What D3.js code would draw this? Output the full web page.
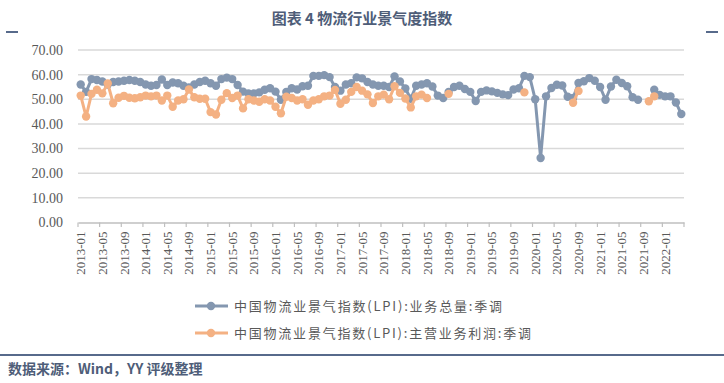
<!DOCTYPE html>
<html><head><meta charset="utf-8">
<script src="https://cdn.jsdelivr.net/npm/d3@7"></script>
<style>body{margin:0;background:#fff}svg{display:block}</style>
</head><body><svg id="c" width="724" height="383"></svg>
<script>
// ---- data ----
const startMonth = "2013-01", endMonth = "2022-04";
const tickLabels = ["2013-01","2013-05","2013-09","2014-01","2014-05","2014-09","2015-01","2015-05","2015-09",
  "2016-01","2016-05","2016-09","2017-01","2017-05","2017-09","2018-01","2018-05","2018-09","2019-01","2019-05",
  "2019-09","2020-01","2020-05","2020-09","2021-01","2021-05","2021-09","2022-01"];
const yTicks = [0,10,20,30,40,50,60,70];
const seriesNames = ["中国物流业景气指数(LPI):业务总量:季调","中国物流业景气指数(LPI):主营业务利润:季调"];
const lpiTotal = [
 56.0,53.0,58.2,57.8,57.2,56.0,57.0,57.2,57.5,57.8,57.5,57.0,
 56.0,55.5,55.8,58.0,55.8,56.8,56.5,55.5,54.8,56.0,57.0,57.5,
 56.5,55.5,58.2,58.8,58.2,55.8,53.1,52.4,52.4,52.8,53.9,54.5,
 53.1,49.8,53.0,54.5,54.0,55.3,55.5,59.5,59.5,59.8,59.0,55.0,
 53.5,56.0,56.5,58.9,58.5,57.0,56.0,55.5,55.5,55.0,59.3,57.2,
 54.4,50.2,55.5,56.0,56.5,55.2,51.5,50.5,53.0,55.0,55.5,54.2,
 53.0,49.3,53.0,53.6,53.2,52.6,52.0,51.7,54.0,54.5,59.5,59.0,
 50.0,26.2,51.2,54.6,55.9,55.6,51.0,50.5,56.6,57.3,58.6,57.5,
 55.0,49.8,55.2,57.9,56.6,55.3,50.8,49.8,null,null,53.9,51.8,
 51.2,51.2,48.7,44.0];
const lpiProfit = [
 51.5,43.0,52.2,53.9,52.4,56.4,48.4,50.6,51.4,50.6,50.4,50.8,
 51.5,51.2,51.5,49.5,51.5,47.0,49.5,50.0,54.0,50.8,50.2,50.2,
 44.8,43.8,49.8,52.5,50.5,51.5,46.3,50.0,49.5,49.0,50.0,49.5,
 47.0,44.3,51.0,50.5,49.5,50.0,47.8,49.5,50.0,51.2,51.5,53.8,
 48.2,49.8,53.0,55.0,53.5,52.0,48.5,51.2,51.9,50.0,55.3,52.6,
 50.3,46.7,51.2,51.9,50.5,null,null,null,52.2,null,null,null,
 null,null,null,null,null,null,null,null,null,null,52.8,null,
 null,null,null,null,null,null,null,48.6,53.4,null,null,null,
 null,null,null,null,null,null,null,null,null,49.2,51.2,null,
 null,null,null,null];

// ---- chart ----
const fmt = d3.timeFormat("%Y-%m"), parse = d3.timeParse("%Y-%m");
const months = d3.timeMonth.range(parse(startMonth), d3.timeMonth.offset(parse(endMonth),1)).map(fmt);
const svg = d3.select("#c");
const x = d3.scaleBand().domain(months).range([78, 684]);
const y = d3.scaleLinear().domain([0, 70]).range([222.5, 50]);
const blue = "#8497B0", orange = "#F4B183";
const navy = "#1F3864", titleCol = "#4E5D78";

// title and decorations
svg.append("text").attr("x", 362).attr("y", 24).attr("text-anchor","middle")
  .attr("font-family","'Noto Sans CJK SC'").attr("font-weight","bold").attr("font-size",15)
  .attr("fill", titleCol).text("图表 4 物流行业景气度指数");
svg.append("line").attr("x1",6).attr("x2",18).attr("y1",32).attr("y2",32).attr("stroke",navy).attr("stroke-width",1.5);
svg.append("line").attr("x1",706).attr("x2",718).attr("y1",32).attr("y2",32).attr("stroke",navy).attr("stroke-width",1.5);

// grid
svg.append("g").selectAll("line").data(yTicks.filter(d=>d>0)).join("line")
  .attr("x1",78).attr("x2",684).attr("y1",d=>y(d)).attr("y2",d=>y(d))
  .attr("stroke","#D9D9D9").attr("stroke-width",1.5);

// y labels
svg.append("g").selectAll("text").data(yTicks).join("text")
  .attr("x",63).attr("y",d=>y(d)).attr("dy","0.35em").attr("text-anchor","end")
  .attr("font-family","'Liberation Serif'").attr("font-size",14).attr("fill","#595959")
  .text(d=>d3.format(".2f")(d));

// x axis
const xAxis = d3.axisBottom(x).tickValues(tickLabels).tickSize(0).tickFormat(d=>d);
const gx = svg.append("g").attr("transform","translate(0,222.5)").call(xAxis);
gx.select(".domain").attr("stroke","#BFBFBF").attr("stroke-width",1.5);
gx.selectAll("text").attr("font-family","'Liberation Serif'").attr("font-size",13).attr("fill","#595959")
  .attr("transform","rotate(-90)").attr("text-anchor","end").attr("x",-9).attr("y",0).attr("dy","0.35em");
// tick marks at category boundaries every 4 months
const bounds = months.filter((m,i)=>i%4===0).map(m=>x(m)).concat([x.range()[1]]);
svg.append("g").selectAll("line").data(bounds).join("line")
  .attr("x1",d=>d).attr("x2",d=>d).attr("y1",222.5).attr("y2",227)
  .attr("stroke","#BFBFBF").attr("stroke-width",1.2);

// series
const cx = i => x(months[i]) + x.bandwidth()/2;
function drawSeries(vals, col){
  const pts = vals.map((v,i)=>({i,v}));
  const line = d3.line().defined(d=>d.v!=null).x(d=>cx(d.i)).y(d=>y(d.v));
  svg.append("path").datum(pts).attr("d",line).attr("fill","none")
    .attr("stroke",col).attr("stroke-width",3).attr("stroke-linejoin","round");
  svg.append("g").selectAll("circle").data(pts.filter(d=>d.v!=null)).join("circle")
    .attr("cx",d=>cx(d.i)).attr("cy",d=>y(d.v)).attr("r",4.2).attr("fill",col);
}
drawSeries(lpiTotal, blue);
drawSeries(lpiProfit, orange);

// legend
const lg = svg.append("g");
[[blue,306,268],[orange,333,297]].forEach((r,k)=>{
  lg.append("line").attr("x1",195).attr("x2",228).attr("y1",r[1]).attr("y2",r[1]).attr("stroke",r[0]).attr("stroke-width",3);
  lg.append("circle").attr("cx",211).attr("cy",r[1]).attr("r",4.2).attr("fill",r[0]);
  lg.append("text").attr("x",234).attr("y",r[1]).attr("dy","0.35em")
    .attr("font-family","'Noto Sans CJK SC'").attr("font-size",13).attr("fill","#595959")
    .attr("textLength",r[2]).attr("lengthAdjust","spacing").text(seriesNames[k]);
});

// footer
svg.append("line").attr("x1",0).attr("x2",724).attr("y1",355).attr("y2",355).attr("stroke",navy).attr("stroke-width",1.5);
svg.append("text").attr("x",8).attr("y",374)
  .attr("font-family","'Noto Sans CJK SC'").attr("font-weight","bold").attr("font-size",14)
  .attr("fill",titleCol).text("数据来源：Wind，YY 评级整理");
</script></body></html>
